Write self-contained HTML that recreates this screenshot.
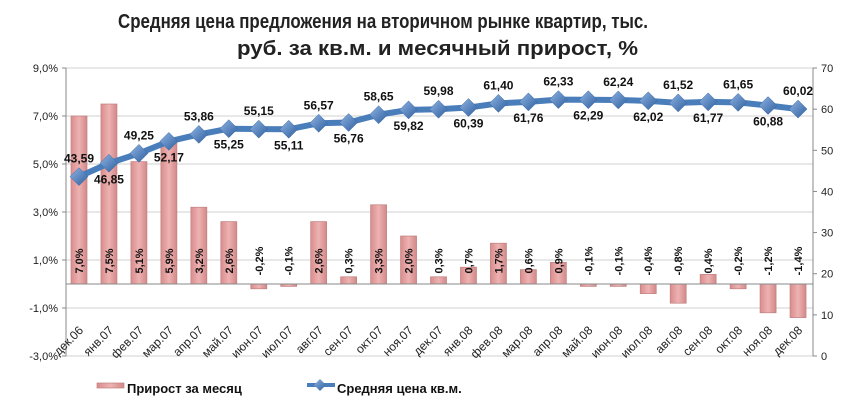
<!DOCTYPE html>
<html><head><meta charset="utf-8">
<style>
html,body{margin:0;padding:0;background:#fff;}
svg{display:block;font-family:"Liberation Sans",sans-serif;}
</style></head>
<body>
<svg id="c" width="853" height="412" viewBox="0 0 853 412" xmlns="http://www.w3.org/2000/svg">
<defs>
<linearGradient id="bg" x1="0" x2="1" y1="0" y2="0">
<stop offset="0" stop-color="#d98c8c"/><stop offset="0.5" stop-color="#eeb2b2"/><stop offset="1" stop-color="#d28888"/>
</linearGradient>
<linearGradient id="mg" x1="0" x2="1" y1="0" y2="1">
<stop offset="0" stop-color="#8fb4e3"/><stop offset="1" stop-color="#2f5f9e"/>
</linearGradient>
</defs>
<text x="118" y="28" textLength="530" lengthAdjust="spacingAndGlyphs" font-size="20" font-weight="bold" fill="#222">Средняя цена предложения на вторичном рынке квартир, тыс.</text>
<text x="237" y="55" textLength="401" lengthAdjust="spacingAndGlyphs" font-size="20" font-weight="bold" fill="#222">руб. за кв.м. и месячный прирост, %</text>
<g id="g"></g>
<rect x="97" y="383" width="27" height="5" fill="url(#bg)" stroke="#c08080" stroke-width="0.7"/>
<text x="127" y="393" font-size="13" font-weight="bold" fill="#111">Прирост за месяц</text>
<line x1="307" y1="385" x2="335" y2="385" stroke="#4a7ebb" stroke-width="4"/>
<path d="M320 379 L326 385 L320 391 L314 385Z" fill="url(#mg)"/>
<text x="337" y="393" font-size="13" font-weight="bold" fill="#111">Средняя цена кв.м.</text>
</svg>
<script>
const g=document.getElementById('g');let s='';
const L=66,R=813;
const yL=v=>284-v*24, yR=v=>356-v*4.114;
[9,7,5,3,1,-1].forEach(v=>{s+=`<line x1="${L}" x2="${R}" y1="${yL(v)}" y2="${yL(v)}" stroke="#d0d0d0" stroke-width="1"/>`;});
s+=`<line x1="${L}" x2="${R}" y1="356" y2="356" stroke="#d0d0d0"/>`;
s+=`<line x1="${L}" x2="${L}" y1="68" y2="356" stroke="#888"/>`;
s+=`<line x1="${R}" x2="${R}" y1="68" y2="356" stroke="#888"/>`;
[9,7,5,3,1,-1,-3].forEach(v=>{const y=yL(v);s+=`<line x1="${L-4}" x2="${L}" y1="${y}" y2="${y}" stroke="#888"/><text x="${L-8}" y="${y+4}" text-anchor="end" font-size="11" fill="#222">${v.toFixed(1).replace('.',',')}%</text>`;});
[0,10,20,30,40,50,60,70].forEach(v=>{const y=yR(v);s+=`<line x1="${R}" x2="${R+4}" y1="${y}" y2="${y}" stroke="#888"/><text x="${R+8}" y="${y+4}" font-size="11" fill="#222">${v}</text>`;});
const b=[7.0,7.5,5.1,5.9,3.2,2.6,-0.2,-0.1,2.6,0.3,3.3,2.0,0.3,0.7,1.7,0.6,0.9,-0.1,-0.1,-0.4,-0.8,0.4,-0.2,-1.2,-1.4];
const p=[43.59,46.85,49.25,52.17,53.86,55.25,55.15,55.11,56.57,56.76,58.65,59.82,59.98,60.39,61.40,61.76,62.33,62.29,62.24,62.02,61.52,61.77,61.65,60.88,60.02];
const m=['дек.06','янв.07','фев.07','мар.07','апр.07','май.07','июн.07','июл.07','авг.07','сен.07','окт.07','ноя.07','дек.07','янв.08','фев.08','мар.08','апр.08','май.08','июн.08','июл.08','авг.08','сен.08','окт.08','ноя.08','дек.08'];
const cx=i=>79+i*29.96;
b.forEach((v,i)=>{const x=cx(i)-8;let y0=284,y1=yL(v);const t=Math.min(y0,y1),h=Math.max(1.5,Math.abs(y1-y0));
s+=`<rect x="${x}" y="${t}" width="16" height="${h}" fill="url(#bg)" stroke="#c08080" stroke-width="0.7"/>`;});
s+=`<line x1="${L}" x2="${R}" y1="284" y2="284" stroke="#888"/>`;
b.forEach((v,i)=>{const lab=v.toFixed(1).replace('.',',')+'%';
s+=`<text transform="translate(${cx(i)+4},261) rotate(-90)" text-anchor="middle" font-size="11" font-weight="bold" fill="#111">${lab}</text>`;
s+=`<text transform="translate(${cx(i)+5},331) rotate(-45)" text-anchor="end" font-size="12" fill="#222">${m[i]}</text>`;});
let d=p.map((v,i)=>(i?'L':'M')+cx(i)+' '+yR(v)).join(' ');
s+=`<path d="${d}" fill="none" stroke="#4a7ebb" stroke-width="6" stroke-linejoin="round"/>`;
p.forEach((v,i)=>{const x=cx(i),y=yR(v);s+=`<path d="M${x} ${y-9} L${x+9} ${y} L${x} ${y+9} L${x-9} ${y}Z" fill="url(#mg)" stroke="#3a6aa8" stroke-width="0.5"/>`;
const ly=i%2==0?y-14:y+20;s+=`<text x="${x}" y="${ly}" text-anchor="middle" font-size="12" font-weight="bold" fill="#111">${v.toFixed(2).replace('.',',')}</text>`;});
g.innerHTML=s;
</script>
</body></html>
